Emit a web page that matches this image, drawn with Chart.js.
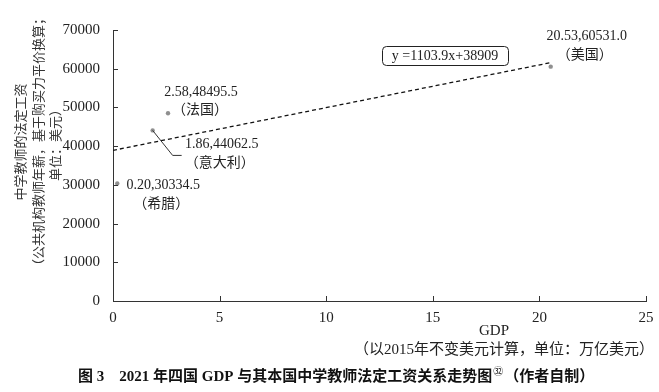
<!DOCTYPE html>
<html lang="zh-CN">
<head>
<meta charset="UTF-8">
<title>2021年四国GDP与中学教师法定工资</title>
<script src="https://cdn.jsdelivr.net/npm/chart.js"></script>
<style>
  html, body { margin: 0; padding: 0; background: #fff; }
  .wrap { width: 659px; height: 392px; position: relative; }
</style>
</head>
<body>
<div class="wrap"><canvas id="gdpChart"></canvas></div>
<script>
// 数据
const countries = ['希腊', '意大利', '法国', '美国'];
const gdp = [0.20, 1.86, 2.58, 20.53];
const salary = [30334.5, 44062.5, 48495.5, 60531.0];
const pointLabels = ['0.20,30334.5', '1.86,44062.5', '2.58,48495.5', '20.53,60531.0'];
// 趋势线 y = 1103.9x + 38909
const trendX = [0, 20.53];
const trendY = [38909, 61572];
const trendText = 'y =1103.9x+38909';
const xTicks = [0, 5, 10, 15, 20, 25];
const yTicks = [0, 10000, 20000, 30000, 40000, 50000, 60000, 70000];

const SERIF = '"Liberation Serif", "Noto Sans CJK SC", serif';
const TXT = '#222';

// 标注位置（相对数据点的像素偏移）
const labelPos = [
  { l1: [46, 2], l2: [44, 21] },
  { l1: [69, 14], l2: [67, 33], leader: [[20, 25], [29, 25]] },
  { l1: [33, -21], l2: [32, -3] },
  { l1: [36, -30], l2: [34, -11] }
];

const annotations = {
  id: 'annotations',
  afterDraw(chart) {
    const ctx = chart.ctx;
    const xs = chart.scales.x, ys = chart.scales.y;
    const area = chart.chartArea;
    ctx.save();

    // 内向刻度
    ctx.strokeStyle = '#333';
    ctx.lineWidth = 1;
    ctx.beginPath();
    yTicks.forEach(v => {
      const py = Math.round(ys.getPixelForValue(v)) + 0.5;
      ctx.moveTo(area.left, py); ctx.lineTo(area.left + 5, py);
    });
    xTicks.forEach(v => {
      const px = Math.round(xs.getPixelForValue(v)) + 0.5;
      ctx.moveTo(px, area.bottom); ctx.lineTo(px, area.bottom - 5);
    });
    ctx.stroke();

    // 数据点标注
    ctx.fillStyle = TXT;
    ctx.textAlign = 'center';
    ctx.textBaseline = 'middle';
    ctx.font = '14px ' + SERIF;
    gdp.forEach((g, i) => {
      const px = xs.getPixelForValue(g), py = ys.getPixelForValue(salary[i]);
      const p = labelPos[i];
      ctx.fillText(pointLabels[i], px + p.l1[0], py + p.l1[1]);
      ctx.fillText('（' + countries[i] + '）', px + p.l2[0], py + p.l2[1]);
      if (p.leader) {
        ctx.beginPath();
        ctx.moveTo(px, py);
        p.leader.forEach(o => ctx.lineTo(px + o[0], py + o[1]));
        ctx.strokeStyle = '#333';
        ctx.stroke();
      }
    });

    // 公式框
    const bx = 382, by = 46, bw = 126, bh = 19;
    ctx.beginPath();
    ctx.roundRect(bx + 0.5, by + 0.5, bw, bh, 4);
    ctx.strokeStyle = '#222';
    ctx.stroke();
    ctx.fillText(trendText, bx + bw / 2, by + bh / 2 + 1);

    // X 轴标题
    ctx.font = '15px ' + SERIF;
    ctx.fillText('GDP', 494, 331);
    ctx.fillText('（以2015年不变美元计算，单位：万亿美元）', 504, 350);

    // Y 轴标题
    ctx.save();
    ctx.translate(0, 142);
    ctx.rotate(-Math.PI / 2);
    ctx.fillStyle = '#333';
    ctx.font = '13px ' + SERIF;
    ctx.fillText('中学教师的法定工资', 0, 22);
    ctx.fillText('（公共机构教师年薪，基于购买力平价换算；', 0, 40);
    ctx.fillText('单位：美元）', 0, 57);
    ctx.restore();

    // 图题
    ctx.textAlign = 'left';
    ctx.fillStyle = '#111';
    ctx.font = 'bold 15px ' + SERIF;
    let x = 78;
    const y = 377;
    const part1 = '图 3    2021 年四国 GDP 与其本国中学教师法定工资关系走势图';
    ctx.fillText(part1, x, y);
    x += ctx.measureText(part1).width;
    ctx.font = '10px ' + SERIF;
    ctx.fillText('㉜', x + 1, y - 5);
    x += ctx.measureText('㉜').width + 2;
    ctx.font = 'bold 15px ' + SERIF;
    ctx.fillText('（作者自制）', x, y);

    ctx.restore();
  }
};

new Chart(document.getElementById('gdpChart'), {
  type: 'scatter',
  data: {
    datasets: [{
      label: '四国',
      data: gdp.map((g, i) => ({ x: g, y: salary[i] })),
      backgroundColor: '#8f8f8f',
      borderWidth: 0,
      pointRadius: 2.2,
      order: 1
    }, {
      label: '趋势线',
      type: 'line',
      data: trendX.map((v, i) => ({ x: v, y: trendY[i] })),
      borderColor: '#111',
      borderWidth: 1.3,
      borderDash: [4, 3],
      pointRadius: 0,
      fill: false,
      order: 2
    }]
  },
  options: {
    responsive: true,
    maintainAspectRatio: false,
    animation: false,
    layout: { padding: { left: 53, right: 13, top: 30, bottom: 0 } },
    plugins: {
      legend: { display: false },
      tooltip: { enabled: false }
    },
    scales: {
      x: {
        type: 'linear',
        min: 0, max: 25,
        afterFit: s => { s.height = 91; },
        afterBuildTicks: s => { s.ticks = xTicks.map(v => ({ value: v })); },
        grid: { display: false },
        border: { display: true, color: '#333', width: 1 },
        ticks: { color: TXT, font: { family: SERIF, size: 15 }, padding: 0, maxRotation: 0,
                 callback: v => String(v) }
      },
      y: {
        type: 'linear',
        min: 0, max: 70000,
        afterFit: s => { s.width = 60; },
        afterBuildTicks: s => { s.ticks = yTicks.map(v => ({ value: v })); },
        grid: { display: false },
        border: { display: true, color: '#333', width: 1 },
        ticks: { color: TXT, font: { family: SERIF, size: 15 }, padding: 5,
                 callback: v => String(v) }
      }
    }
  },
  plugins: [annotations]
});
</script>
</body>
</html>
